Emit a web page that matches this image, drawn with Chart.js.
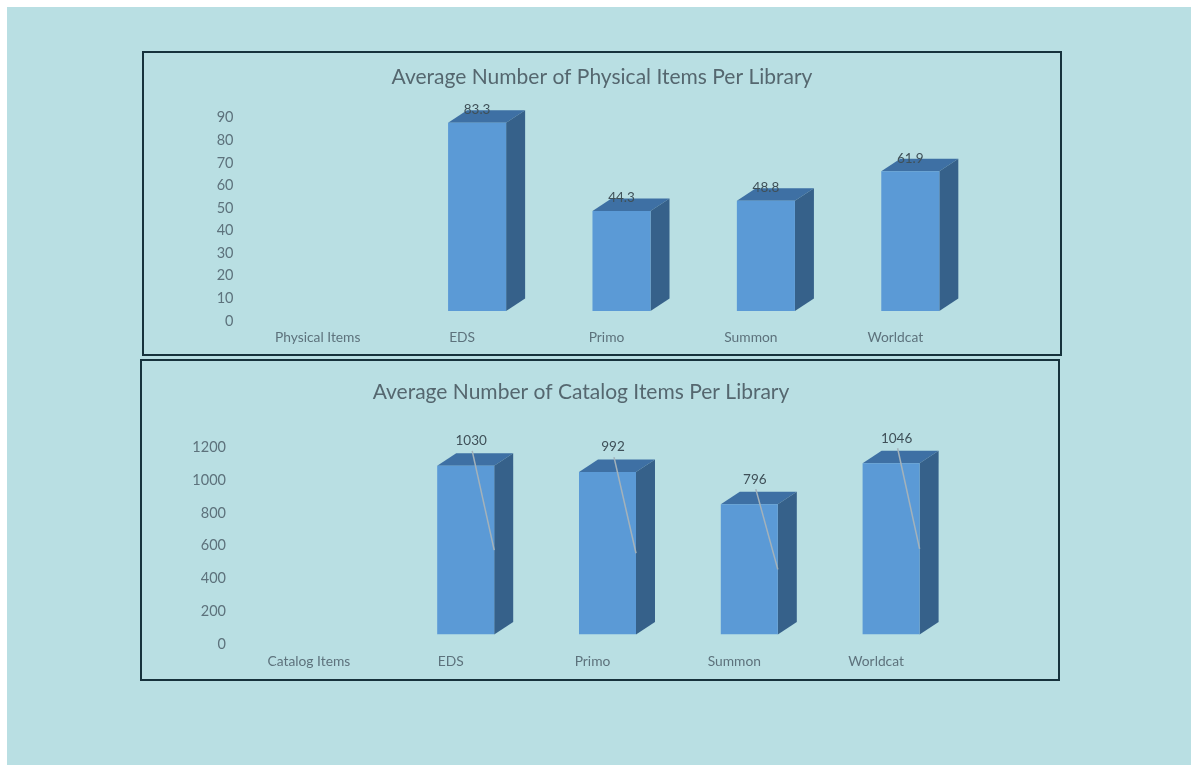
<!DOCTYPE html>
<html>
<head>
<meta charset="utf-8">
<title>Average Number of Items Per Library</title>
<script src="https://cdn.jsdelivr.net/npm/chart.js@4"></script>
<style>
  html, body { margin: 0; padding: 0; background: #fff; overflow: hidden; }
  #page { position: absolute; left: 7px; top: 7px; width: 1184px; height: 758px; background: #b9dfe3; }
  .box { position: absolute; box-sizing: border-box; border: 2px solid #16323c; }
  canvas { position: absolute; filter: blur(0.4px); }
</style>
</head>
<body>
<div id="page"></div>
<div class="box" style="left:142px;top:51px;width:920px;height:305px"></div>
<div class="box" style="left:140px;top:359px;width:920px;height:322px"></div>
<canvas id="physicalChart" style="left:143px;top:52px" width="918" height="303"></canvas>
<canvas id="catalogChart" style="left:141px;top:360px" width="880" height="320"></canvas>
<script>
const physicalLabels = ['Physical Items', 'EDS', 'Primo', 'Summon', 'Worldcat'];
const physicalValues = [null, 83.3, 44.3, 48.8, 61.9];
const physicalTicks = [0, 10, 20, 30, 40, 50, 60, 70, 80, 90];

const catalogLabels = ['Catalog Items', 'EDS', 'Primo', 'Summon', 'Worldcat'];
const catalogValues = [null, 1030, 992, 796, 1046];
const catalogTicks = [0, 200, 400, 600, 800, 1000, 1200];

const FONT = 'Lato';
const DEPTH_X = 19;
const DEPTH_Y = 12.5;

// fake 3D faces + value labels, positions come from the bar elements
const bar3d = {
  id: 'bar3d',
  beforeDatasetsDraw(chart) {
    const ctx = chart.ctx;
    chart.getDatasetMeta(0).data.forEach((bar, i) => {
      if (chart.data.datasets[0].data[i] == null) return;
      const l = bar.x - bar.width / 2, r = bar.x + bar.width / 2;
      ctx.save();
      ctx.fillStyle = '#3e70a4';
      ctx.beginPath();
      ctx.moveTo(l, bar.y);
      ctx.lineTo(r, bar.y);
      ctx.lineTo(r + DEPTH_X, bar.y - DEPTH_Y);
      ctx.lineTo(l + DEPTH_X, bar.y - DEPTH_Y);
      ctx.closePath();
      ctx.fill();
      ctx.fillStyle = '#36618a';
      ctx.beginPath();
      ctx.moveTo(r, bar.y);
      ctx.lineTo(r + DEPTH_X, bar.y - DEPTH_Y);
      ctx.lineTo(r + DEPTH_X, bar.base - DEPTH_Y);
      ctx.lineTo(r, bar.base);
      ctx.closePath();
      ctx.fill();
      ctx.restore();
    });
  },
  afterDatasetsDraw(chart, args, opts) {
    const ctx = chart.ctx;
    chart.getDatasetMeta(0).data.forEach((bar, i) => {
      const v = chart.data.datasets[0].data[i];
      if (v == null) return;
      const r = bar.x + bar.width / 2;
      const lx = bar.x + opts.labelDx;
      ctx.save();
      if (opts.leader) {
        ctx.strokeStyle = '#a4b2ba';
        ctx.lineWidth = 1.5;
        ctx.beginPath();
        ctx.moveTo(lx + 1, bar.y - 15);
        ctx.lineTo(r, (bar.y + bar.base) / 2);
        ctx.stroke();
      }
      ctx.fillStyle = '#3f5058';
      ctx.font = '13.5px ' + FONT;
      ctx.textAlign = 'center';
      ctx.textBaseline = 'middle';
      ctx.fillText(String(v), lx, bar.y - opts.labelDy);
      ctx.restore();
    });
  }
};

function makeChart(id, labels, values, ticks, titleText, s) {
  return new Chart(document.getElementById(id), {
    type: 'bar',
    data: {
      labels: labels,
      datasets: [{ data: values, backgroundColor: '#5b9ad6', barPercentage: 0.402, categoryPercentage: 1 }]
    },
    plugins: [bar3d],
    options: {
      responsive: false,
      animation: false,
      plugins: {
        legend: { display: false },
        tooltip: { enabled: false },
        title: {
          display: true,
          text: titleText,
          color: '#55676f',
          font: { family: FONT, size: 21, weight: 'normal' },
          padding: { top: s.titleTop, bottom: s.titleBottom }
        },
        bar3d: { labelDx: s.labelDx, labelDy: s.labelDy, leader: s.leader }
      },
      scales: {
        x: {
          grid: { display: false, drawTicks: false },
          border: { display: false },
          afterFit(scale) { scale.height = s.xHeight; },
          ticks: {
            color: '#5d727c',
            font: { family: FONT, size: 13.8 },
            padding: s.xPad,
            labelOffset: -15,
            autoSkip: false,
            maxRotation: 0
          }
        },
        y: {
          min: ticks[0],
          max: ticks[ticks.length - 1],
          grid: { display: false, drawTicks: false },
          border: { display: false },
          afterFit(scale) { scale.width = s.yWidth; },
          afterBuildTicks(scale) { scale.ticks = ticks.map(v => ({ value: v })); },
          ticks: {
            color: '#5d727c',
            font: { family: FONT, size: 14.5 },
            padding: s.yPad,
            labelOffset: s.yLabelOffset,
            callback: v => String(v)
          }
        },
        // empty axis, only there to keep room right of the bars without moving the title
        spacer: {
          position: 'right',
          grid: { display: false, drawTicks: false },
          border: { display: false },
          ticks: { display: false },
          afterFit(scale) { scale.width = s.rightGap; }
        }
      }
    }
  });
}

makeChart('physicalChart', physicalLabels, physicalValues, physicalTicks,
  'Average Number of Physical Items Per Library',
  { rightGap: 78.5, titleTop: 12.5, titleBottom: 18, xHeight: 44, xPad: 18.5, yWidth: 117.5, yPad: 27,
    yLabelOffset: 10, labelDx: 0, labelDy: 13, leader: false });

makeChart('catalogChart', catalogLabels, catalogValues, catalogTicks,
  'Average Number of Catalog Items Per Library',
  { rightGap: 59, titleTop: 20, titleBottom: 32.8, xHeight: 45.5, xPad: 18.5, yWidth: 112, yPad: 27,
    yLabelOffset: 9.5, labelDx: 5.5, labelDy: 25, leader: true });
</script>
</body>
</html>
